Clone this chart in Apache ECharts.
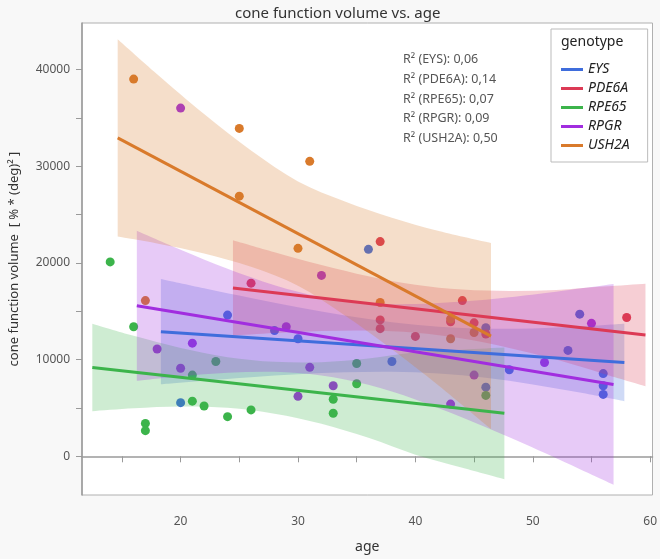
<!DOCTYPE html>
<html><head><meta charset="utf-8">
<script src="https://cdn.jsdelivr.net/npm/echarts/dist/echarts.min.js"></script>
<style>html,body{margin:0;padding:0;background:#f8f8f8;}#c{width:660px;height:559px;}</style>
</head><body><div id="c"></div>
<script>
// ---- data ----
const genotypes = ['EYS', 'PDE6A', 'RPE65', 'RPGR', 'USH2A'];
const r2Labels = ['R\u00b2 (EYS): 0,06', 'R\u00b2 (PDE6A): 0,14', 'R\u00b2 (RPE65): 0,07', 'R\u00b2 (RPGR): 0,09', 'R\u00b2 (USH2A): 0,50'];

const xTickLabels = [20, 30, 40, 50, 60];
const xTickMarks = [15, 20, 25, 30, 35, 40, 45, 50, 55, 60];
const yTickLabels = [0, 10000, 20000, 30000, 40000];
const yTickMarks = [0, 5000, 10000, 15000, 20000, 25000, 30000, 35000, 40000];

const eysAge = [20, 24, 28, 30, 36, 38, 46, 46, 48, 53, 54, 56, 56, 56];
const eysVal = [5550, 14600, 13000, 12150, 21400, 9800, 13300, 7150, 8950, 10950, 14700, 8550, 7300, 6400];
const pde6aAge = [26, 37, 37, 37, 40, 43, 44, 45, 46, 58];
const pde6aVal = [17900, 22200, 14100, 13200, 12400, 13900, 16100, 13800, 12650, 14350];
const rpe65Age = [14, 16, 17, 17, 21, 21, 22, 23, 24, 26, 33, 33, 35, 35, 46];
const rpe65Val = [20100, 13400, 3400, 2650, 5700, 8400, 5200, 9800, 4100, 4800, 5900, 4450, 9600, 7500, 6300];
const rpgrAge = [18, 20, 20, 21, 29, 30, 31, 32, 33, 43, 45, 51, 55];
const rpgrVal = [11100, 36000, 9100, 11700, 13400, 6200, 9200, 18700, 7300, 5400, 8400, 9700, 13750];
const ush2aAge = [16, 17, 25, 25, 30, 31, 37, 43, 43, 45];
const ush2aVal = [39000, 16100, 33900, 26900, 21500, 30500, 15900, 14200, 12150, 12800];

// fitted lines (end points)
const eysFit = [[18.32, 12890], [57.8, 9700]];
const pde6aFit = [[24.46, 17410], [59.6, 12550]];
const rpe65Fit = [[12.48, 9190], [47.58, 4441]];
const rpgrFit = [[16.27, 15560], [56.88, 7430]];
const ush2aFit = [[14.64, 32930], [46.44, 12432]];

// confidence bands
const eysBandAge = [18.32, 22, 26, 30, 34, 38, 42, 46, 50, 54, 57.8];
const eysBandLow = [7440, 7808, 8169, 8472, 8681, 8734, 8558, 8113, 7433, 6592, 5698];
const eysBandHigh = [18340, 17378, 16369, 15420, 14565, 13866, 13396, 13193, 13227, 13422, 13702];
const pde6aBandAge = [24.46, 28, 32, 36, 40, 44, 48, 52, 56, 59.6];
const pde6aBandLow = [12480, 12739, 12948, 13002, 12783, 12180, 11211, 10003, 8548, 7250];
const pde6aBandHigh = [22340, 21101, 19786, 18626, 17739, 17236, 17097, 17199, 17548, 17850];
const rpe65BandAge = [12.48, 16, 20, 24, 28, 32, 36, 40, 44, 47.58];
const rpe65BandLow = [4670, 4972, 5149, 5010, 4407, 3369, 1908, 166, -1175, -2359];
const rpe65BandHigh = [13710, 12456, 11197, 10252, 9773, 9729, 10108, 10766, 11025, 11241];
const rpgrBandAge = [16.27, 20, 24, 28, 32, 36, 40, 44, 48, 52, 56.88];
const rpgrBandLow = [7800, 8279, 8642, 8733, 8365, 7394, 5885, 4023, 1964, -208, -2945];
const rpgrBandHigh = [23320, 21347, 19382, 17691, 16457, 15826, 15735, 15995, 16452, 17022, 17805];
const ush2aBandAge = [14.64, 18, 22, 26, 30, 34, 38, 42, 46.44];
const ush2aBandLow = [22730, 22015, 20978, 19594, 17633, 14551, 11072, 7294, 2812];
const ush2aBandHigh = [43130, 39513, 35394, 31620, 28425, 26351, 24672, 23294, 22052];

const colors = ['#3f6ddc', '#dc3a55', '#3cb44b', '#a12ddf', '#d97a2b'];

const groups = [
  {age: eysAge, val: eysVal, fit: eysFit, bx: eysBandAge, lo: eysBandLow, hi: eysBandHigh},
  {age: pde6aAge, val: pde6aVal, fit: pde6aFit, bx: pde6aBandAge, lo: pde6aBandLow, hi: pde6aBandHigh},
  {age: rpe65Age, val: rpe65Val, fit: rpe65Fit, bx: rpe65BandAge, lo: rpe65BandLow, hi: rpe65BandHigh},
  {age: rpgrAge, val: rpgrVal, fit: rpgrFit, bx: rpgrBandAge, lo: rpgrBandLow, hi: rpgrBandHigh},
  {age: ush2aAge, val: ush2aVal, fit: ush2aFit, bx: ush2aBandAge, lo: ush2aBandLow, hi: ush2aBandHigh}
];

const FONT = '"Noto Sans", "Open Sans", sans-serif';

function smoothSeg(p) {
  let d = '';
  for (let i = 0; i < p.length - 1; i++) {
    const p0 = p[i - 1] || p[i], p1 = p[i], p2 = p[i + 1], p3 = p[i + 2] || p[i + 1];
    const c1x = p1[0] + (p2[0] - p0[0]) / 6, c1y = p1[1] + (p2[1] - p0[1]) / 6;
    const c2x = p2[0] - (p3[0] - p1[0]) / 6, c2y = p2[1] - (p3[1] - p1[1]) / 6;
    d += ' C' + c1x + ' ' + c1y + ' ' + c2x + ' ' + c2y + ' ' + p2[0] + ' ' + p2[1];
  }
  return d;
}

const series = [];
groups.forEach((g, k) => {
  series.push({
    name: genotypes[k], type: 'scatter', z: 2, symbolSize: 9,
    itemStyle: {color: colors[k], opacity: 1},
    data: g.age.map((a, i) => [a, g.val[i]])
  });
});
groups.forEach((g, k) => {
  series.push({
    name: genotypes[k], type: 'custom', z: 3, silent: true,
    data: [[g.bx[0], g.lo[0]]],
    renderItem: function (params, api) {
      const up = g.bx.map((x, i) => api.coord([x, g.hi[i]]));
      const lo = g.bx.map((x, i) => api.coord([x, g.lo[i]])).reverse();
      const d = 'M' + up[0][0] + ' ' + up[0][1] + smoothSeg(up) +
        ' L' + lo[0][0] + ' ' + lo[0][1] + smoothSeg(lo) + ' Z';
      return {type: 'path', shape: {pathData: d}, style: {fill: colors[k], opacity: 0.25}};
    }
  });
});
groups.forEach((g, k) => {
  series.push({
    name: genotypes[k], type: 'line', z: 4, showSymbol: false, symbol: 'none',
    lineStyle: {color: colors[k], width: 3}, itemStyle: {color: colors[k]},
    data: g.fit
  });
});

const axisGrey = '#9a9a9a';
const option = {
  animation: false,
  backgroundColor: '#f8f8f8',
  textStyle: {fontFamily: FONT},
  title: {
    text: 'cone function volume vs. age', left: 230, top: 1,
    textStyle: {fontFamily: FONT, fontSize: 15, fontWeight: 'normal', color: '#333'}
  },
  grid: {left: 76, right: 6, top: 23, bottom: 62, show: true, backgroundColor: '#fff', borderColor: '#b0b0b0', borderWidth: 1},
  legend: {
    orient: 'vertical', left: 551, top: 29,
    padding: [32, 18, 8, 10], itemGap: 2, itemWidth: 22, itemHeight: 3,
    backgroundColor: '#fff', borderColor: '#bbb', borderWidth: 1,
    textStyle: {fontFamily: FONT, fontSize: 14, fontStyle: 'italic', color: '#222', lineHeight: 17},
    data: genotypes.map((n, k) => ({name: n, icon: 'rect', itemStyle: {color: colors[k]}}))
  },
  graphic: [
    {type: 'text', left: 561, top: 35, z: 100, style: {text: 'genotype', fontFamily: FONT, fontSize: 14, fill: '#222'}}
  ].concat(r2Labels.map((t, i) => ({
    type: 'text', left: 403, top: 53 + i * 19.75, z: 100,
    style: {text: t, fontFamily: FONT, fontSize: 12.5, fill: '#555'}
  }))),
  xAxis: {
    type: 'value', min: 11.6, max: 60.2, splitNumber: 5,
    name: 'age', nameLocation: 'middle', nameGap: 45,
    nameTextStyle: {fontFamily: FONT, fontSize: 14, color: '#333'},
    axisLine: {show: true, lineStyle: {color: axisGrey, width: 1.5}},
    axisTick: {show: true, length: 6, lineStyle: {color: axisGrey}, customValues: xTickMarks},
    minorTick: {show: false},
    splitLine: {show: false},
    axisLabel: {color: '#555', fontSize: 12, margin: 21, fontFamily: FONT, customValues: xTickLabels,
      formatter: v => String(v)}
  },
  yAxis: {
    type: 'value', min: -4000, max: 44800, splitNumber: 5,
    name: 'cone function volume  [ % * (deg)\u00b2 ]', nameLocation: 'middle', nameGap: 61,
    nameTextStyle: {fontFamily: FONT, fontSize: 13, color: '#333'},
    axisLine: {show: true, lineStyle: {color: axisGrey, width: 1.5}},
    axisTick: {show: true, length: 6, lineStyle: {color: axisGrey}, customValues: yTickMarks},
    minorTick: {show: false},
    splitLine: {show: false},
    axisLabel: {color: '#555', fontSize: 12, margin: 12, fontFamily: FONT, customValues: yTickLabels,
      formatter: v => String(v)}
  },
  series: series
};
const chart = echarts.init(document.getElementById('c'), null, {renderer: 'canvas'});
chart.setOption(option);
</script></body></html>
